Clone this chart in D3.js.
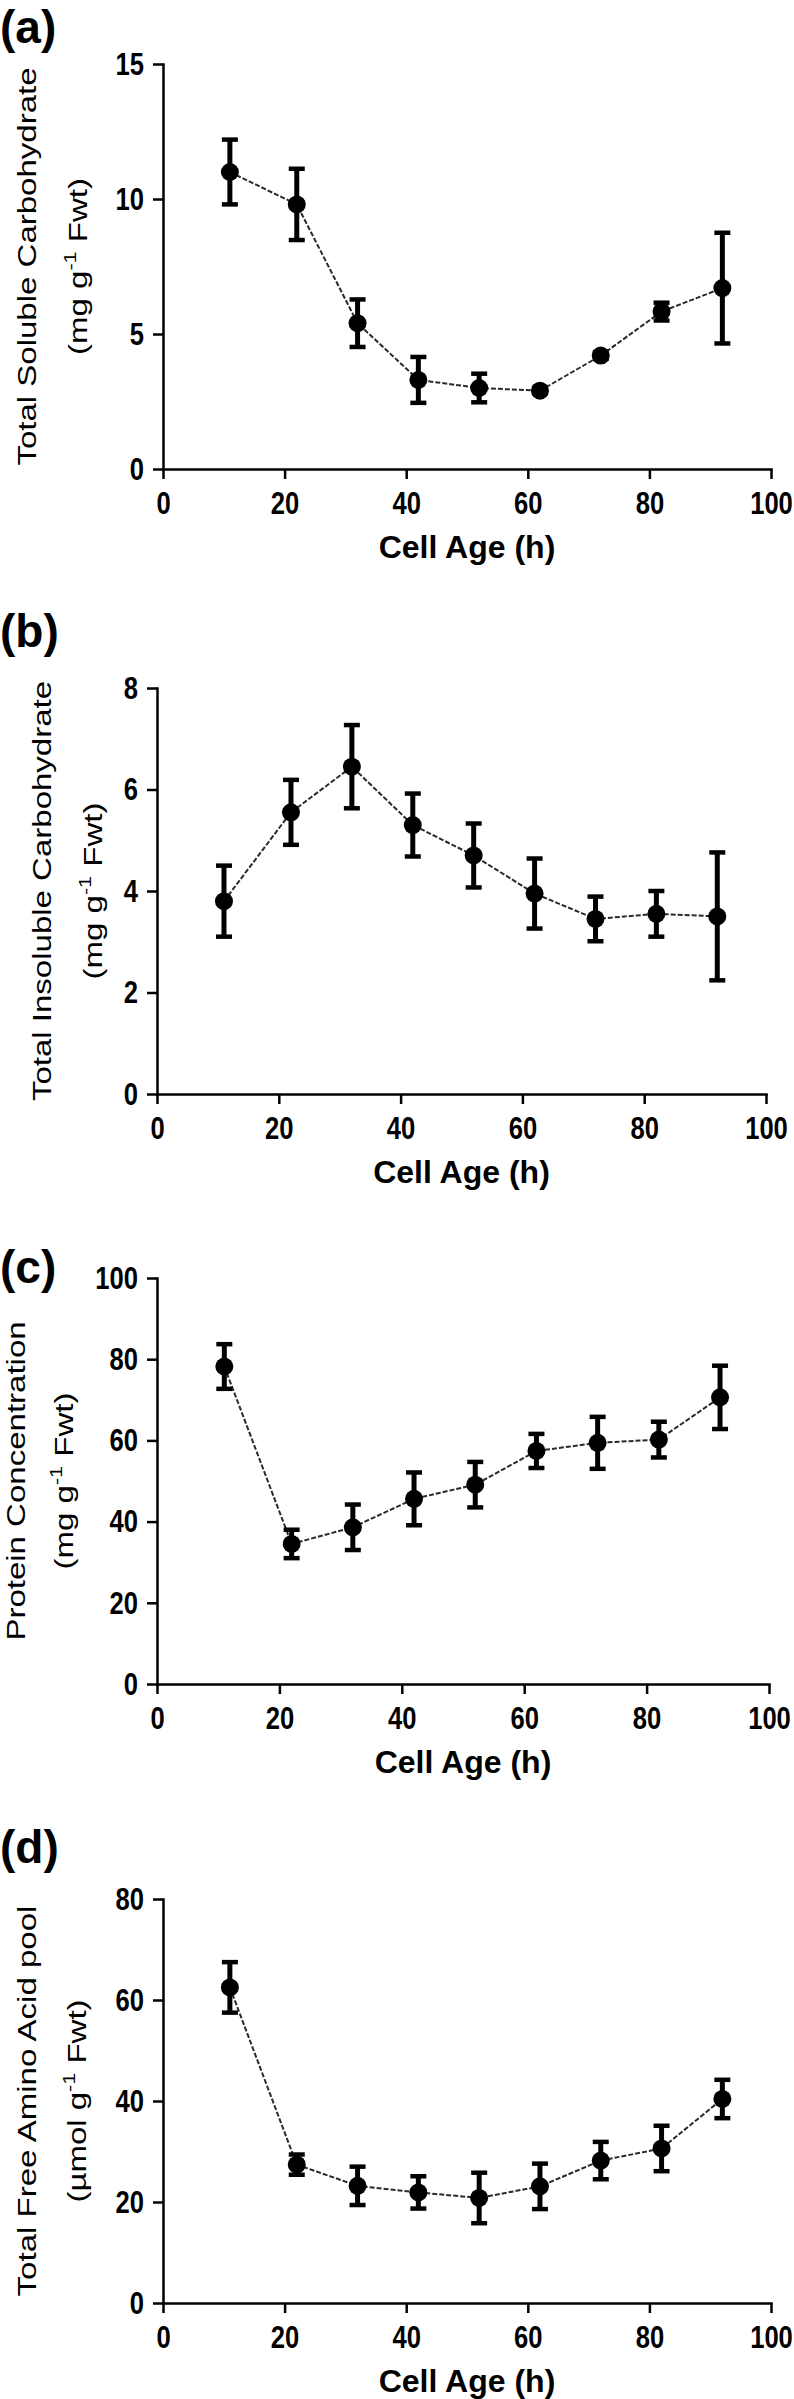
<!DOCTYPE html>
<html>
<head>
<meta charset="utf-8">
<script src="https://cdn.jsdelivr.net/npm/d3@7"></script>
<style>
  body { margin: 0; background: #fff; }
  svg { display: block; }
</style>
</head>
<body>
<div class="figure"></div>
<script>
// shared x values (cell age, h)
const hours = [11, 22, 32, 42, 52, 62, 72, 82, 92]
const xTicks = [0, 20, 40, 60, 80, 100]

// (a) total soluble carbohydrate, mg g-1 Fwt
const solubleMean = [11.0, 9.8, 5.4, 3.3, 3.0, 2.9, 4.2, 5.83, 6.7]
const solubleErr = [1.2, 1.32, 0.88, 0.85, 0.53, 0.1, 0.12, 0.33, 2.05]
const solubleTicks = [0, 5, 10, 15]

// (b) total insoluble carbohydrate, mg g-1 Fwt
const insolubleMean = [3.8, 5.55, 6.45, 5.3, 4.7, 3.95, 3.45, 3.55, 3.5]
const insolubleErr = [0.7, 0.64, 0.82, 0.62, 0.63, 0.69, 0.44, 0.45, 1.26]
const insolubleTicks = [0, 2, 4, 6, 8]

// (c) protein concentration, mg g-1 Fwt
const proteinMean = [78.2, 34.5, 38.6, 45.6, 49.1, 57.4, 59.4, 60.2, 70.6]
const proteinErr = [5.5, 3.5, 5.6, 6.5, 5.6, 4.2, 6.4, 4.4, 7.8]
const proteinTicks = [0, 20, 40, 60, 80, 100]

// (d) total free amino acid pool, umol g-1 Fwt
const aminoMean = [62.5, 27.4, 23.2, 21.9, 20.8, 23.1, 28.2, 30.6, 40.4]
const aminoErr = [5.0, 2.0, 3.8, 3.2, 5.0, 4.5, 3.7, 4.5, 3.8]
const aminoTicks = [0, 20, 40, 60, 80]

const WIDTH = 794
const HEIGHT = 2399
const INK = '#000'
const LINE_COLOR = '#2a2a2a'
const FONT = '"Liberation Sans", Arial, Helvetica, sans-serif'
// the original tick digits are a narrow bold face; squeeze regular bold
const TICK_SQUEEZE = 0.8

const svg = d3.select('.figure').append('svg')
  .attr('width', WIDTH)
  .attr('height', HEIGHT)
svg.append('rect')
  .attr('width', WIDTH)
  .attr('height', HEIGHT)
  .attr('fill', '#fff')

const styleAxis = axis => {
  axis.select('.domain')
    .attr('stroke', INK)
    .attr('stroke-width', 2.5)
    .attr('stroke-linecap', 'square')
  axis.selectAll('.tick line')
    .attr('stroke', INK)
    .attr('stroke-width', 2.5)
  axis.selectAll('.tick text')
    .attr('fill', INK)
    .attr('font-family', FONT)
    .attr('font-weight', 'bold')
    .attr('font-size', 32)
    .attr('x', function() { return +d3.select(this).attr('x') / TICK_SQUEEZE })
    .attr('transform', `scale(${TICK_SQUEEZE}, 1)`)
}

const drawPanel = p => {
  const x = d3.scaleLinear().domain([0, 100]).range([p.left, p.right])
  const y = d3.scaleLinear().domain([0, d3.max(p.ticks)]).range([p.bottom, p.top])
  const g = svg.append('g')

  g.append('g')
    .attr('transform', `translate(0, ${p.bottom})`)
    .call(d3.axisBottom(x).tickValues(xTicks).tickSize(10).tickSizeOuter(0).tickPadding(12))
    .call(styleAxis)
  g.append('g')
    .attr('transform', `translate(${p.left}, 0)`)
    .call(d3.axisLeft(y).tickValues(p.ticks).tickSize(10).tickSizeOuter(0).tickPadding(9))
    .call(styleAxis)

  const points = hours.map((h, i) => ({ h, m: p.mean[i], e: p.err[i] }))

  // connecting line
  g.append('path')
    .datum(points)
    .attr('fill', 'none')
    .attr('stroke', LINE_COLOR)
    .attr('stroke-width', 2)
    .attr('stroke-dasharray', '5,2')
    .attr('d', d3.line().x(d => x(d.h)).y(d => y(d.m)))

  // error bars
  const bars = g.append('g').attr('stroke', INK)
  bars.selectAll('line.bar')
    .data(points)
    .join('line')
    .attr('class', 'bar')
    .attr('x1', d => x(d.h))
    .attr('x2', d => x(d.h))
    .attr('y1', d => y(d.m - d.e))
    .attr('y2', d => y(d.m + d.e))
    .attr('stroke-width', 5)
  bars.selectAll('line.cap')
    .data(points.flatMap(d => [{ h: d.h, v: d.m - d.e }, { h: d.h, v: d.m + d.e }]))
    .join('line')
    .attr('class', 'cap')
    .attr('x1', d => x(d.h) - 8)
    .attr('x2', d => x(d.h) + 8)
    .attr('y1', d => y(d.v))
    .attr('y2', d => y(d.v))
    .attr('stroke-width', 4.5)

  // markers
  g.selectAll('circle')
    .data(points)
    .join('circle')
    .attr('cx', d => x(d.h))
    .attr('cy', d => y(d.m))
    .attr('r', 9)
    .attr('fill', INK)

  // x axis title
  g.append('text')
    .attr('x', (p.left + p.right) / 2)
    .attr('y', p.bottom + 89)
    .attr('text-anchor', 'middle')
    .attr('font-family', FONT)
    .attr('font-weight', 'bold')
    .attr('font-size', 32)
    .attr('fill', INK)
    .text('Cell Age (h)')

  // y axis title, two lines, stretched along the text like the original
  const midY = (p.top + p.bottom) / 2
  const addTitleLine = (cx, build) => {
    const t = g.append('g')
      .attr('transform', `translate(${cx}, ${midY}) rotate(-90) scale(1.27, 1)`)
      .append('text')
      .attr('text-anchor', 'middle')
      .attr('dy', '0.35em')
      .attr('font-family', FONT)
      .attr('font-size', 26)
      .attr('fill', INK)
    build(t)
  }
  addTitleLine(p.titleX[0], t => t.text(p.title))
  addTitleLine(p.titleX[1], t => {
    t.append('tspan').text(p.unit)
    t.append('tspan').attr('dy', -11).attr('font-size', 17).text('-1')
    t.append('tspan').attr('dy', 11).text(' Fwt)')
  })

  // panel letter
  g.append('text')
    .attr('x', 0)
    .attr('y', p.labelY)
    .attr('font-family', FONT)
    .attr('font-weight', 'bold')
    .attr('font-size', 46)
    .attr('fill', INK)
    .text(p.label)
}

drawPanel({
  label: '(a)', labelY: 43,
  left: 163, right: 771, top: 64, bottom: 469,
  ticks: solubleTicks, mean: solubleMean, err: solubleErr,
  title: 'Total Soluble Carbohydrate', unit: '(mg g', titleX: [27, 78]
})
drawPanel({
  label: '(b)', labelY: 647,
  left: 157, right: 766, top: 688, bottom: 1094,
  ticks: insolubleTicks, mean: insolubleMean, err: insolubleErr,
  title: 'Total Insoluble Carbohydrate', unit: '(mg g', titleX: [42, 93]
})
drawPanel({
  label: '(c)', labelY: 1283,
  left: 157, right: 769, top: 1278, bottom: 1684,
  ticks: proteinTicks, mean: proteinMean, err: proteinErr,
  title: 'Protein Concentration', unit: '(mg g', titleX: [16, 64]
})
drawPanel({
  label: '(d)', labelY: 1863,
  left: 163, right: 771, top: 1899, bottom: 2303,
  ticks: aminoTicks, mean: aminoMean, err: aminoErr,
  title: 'Total Free Amino Acid pool', unit: '(\u00b5mol g', titleX: [27, 77]
})
</script>
</body>
</html>
